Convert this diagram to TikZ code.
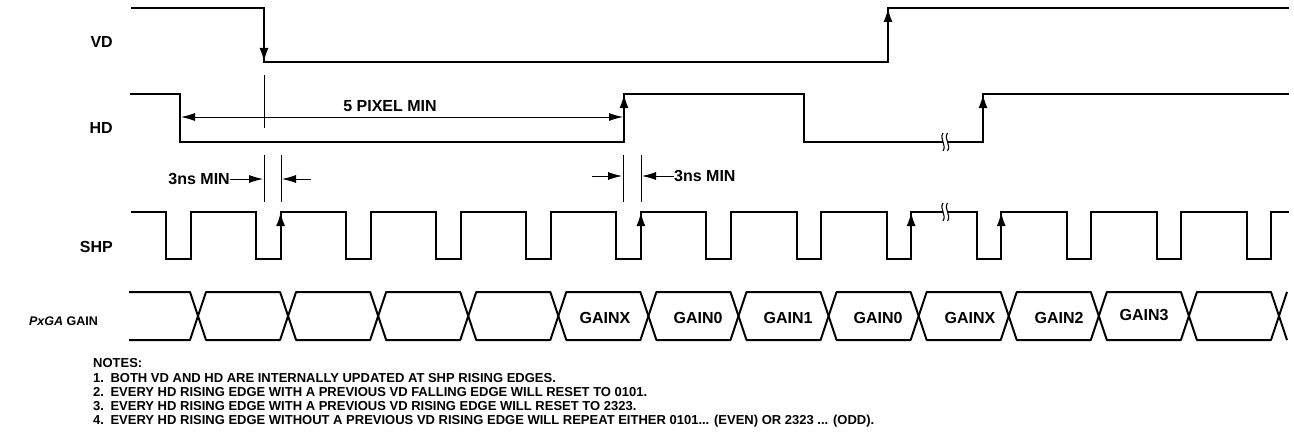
\documentclass[tikz,border=0pt]{standalone}
\usepackage{fontspec}
\setmainfont{Liberation Sans}
\usetikzlibrary{arrows.meta}

\tikzset{
  sig/.style={line width=2pt},
  dim/.style={line width=0.9pt},
  edgetip/.style={sig,-{Latex[length=14pt,width=9pt]}},
  dimtip/.style={dim,-{Latex[length=14pt,width=8pt]}},
  lbl/.style={inner sep=0pt,font=\fontsize{16}{19}\selectfont\bfseries},
  note/.style={inner sep=0pt,anchor=base west,font=\fontsize{13}{14}\selectfont\bfseries},
}

\newcommand{\brkmark}[2]{%
  \begin{scope}[shift={(#1,#2)}]
    \fill[white] (-2,-9) .. controls (-6,-3) and (2,3) .. (-2,9) -- (2.5,9)
      .. controls (6.5,3) and (-1.5,-3) .. (2.5,-9) -- cycle;
    \draw[line width=1.1pt] (-2,-9) .. controls (-6,-3) and (2,3) .. (-2,9);
    \draw[line width=1.1pt] (2.5,-9) .. controls (-1.5,-3) and (6.5,3) .. (2.5,9);
  \end{scope}}

\begin{document}
\begin{tikzpicture}[x=1pt,y=-1pt]
  \useasboundingbox (0,0) rectangle (1294,444);

  \node[lbl,anchor=east] (lblvd)  at (113,42)  {VD};
  \node[lbl,anchor=east] (lblhd)  at (113,128) {HD};
  \node[lbl,anchor=east] (lblshp) at (113,247) {SHP};
  \node[lbl,anchor=east,font=\fontsize{12.5}{14}\selectfont\bfseries] (lblgain) at (98,321) {\textit{PxGA} GAIN};

  % VD
  \draw[sig] (131,8) -- (264,8) -- (264,62) -- (888,62) -- (888,8) -- (1289,8);
  \draw[edgetip] (264,8) -- (264,62);
  \draw[edgetip] (888,62) -- (888,8);

  % HD
  \draw[sig] (130,94) -- (180,94) -- (180,142) -- (624,142) -- (624,94)
    -- (804,94) -- (804,142) -- (983,142) -- (983,94) -- (1289,94);
  \draw[edgetip] (624,142) -- (624,94);
  \draw[edgetip] (983,142) -- (983,94);
  \brkmark{945}{142}

  \draw[dim] (264,75) -- (264,128);
  \coordinate (pixl) at (181,117);
  \coordinate (pixr) at (623,117);
  \draw[dim,{Latex[length=14pt,width=8pt]}-{Latex[length=14pt,width=8pt]}] (pixl) -- (pixr);
  \node[lbl] (txtpix) at (390,106) {5 PIXEL MIN};

  % SHP
  \draw[sig] (131,212) \foreach \k in {0,...,12} {
      -- ({166+90.08*\k},212) -- ({166+90.08*\k},259)
      -- ({190.5+90.08*\k},259) -- ({190.5+90.08*\k},212) } -- (1289,212);
  \foreach \k in {1,5,8,9}
    \draw[edgetip] ({190.5+90.08*\k},259) -- ({190.5+90.08*\k},212);
  \brkmark{945}{212}

  % 3ns MIN
  \draw[dim] (264,155) -- (264,202);
  \draw[dim] (281,155) -- (281,202);
  \node[lbl,anchor=east] (txtnsl) at (230,179) {3ns MIN};
  \coordinate (nsla) at (263,179);
  \coordinate (nslb) at (311,179);
  \coordinate (nslc) at (282,179);
  \draw[dimtip] (txtnsl.east) -- (nsla);
  \draw[dimtip] (nslb) -- (nslc);

  \draw[dim] (623,155) -- (623,202);
  \draw[dim] (641,155) -- (641,202);
  \node[lbl,anchor=west] (txtnsr) at (674,176) {3ns MIN};
  \coordinate (nsra) at (592,176);
  \coordinate (nsrb) at (622,176);
  \coordinate (nsrc) at (642,176);
  \draw[dimtip] (nsra) -- (nsrb);
  \draw[dimtip] (txtnsr.west) -- (nsrc);

  % PxGA GAIN
  \draw[sig,line join=round] (129,292) -- (190,292) -- (198,316) -- (190,340) -- (129,340);
  \foreach \k in {0,...,11} {
    \pgfmathsetmacro\xl{198+90.08*\k}
    \pgfmathsetmacro\xr{\xl+90.08}
    \draw[sig,line join=round] (\xl,316) -- ({\xl+8},292) -- ({\xr-8},292)
      -- (\xr,316) -- ({\xr-8},340) -- ({\xl+8},340) -- cycle;
  }
  \draw[sig,line join=round] (1287,292) -- (1279,316) -- (1287,340);

  \node[lbl] (g1) at (605,318)  {GAINX};
  \node[lbl] (g2) at (698,318)  {GAIN0};
  \node[lbl] (g3) at (788,318)  {GAIN1};
  \node[lbl] (g4) at (878,318)  {GAIN0};
  \node[lbl] (g5) at (970,318)  {GAINX};
  \node[lbl] (g6) at (1059,318) {GAIN2};
  \node[lbl] (g7) at (1144,315) {GAIN3};

  % notes
  \node[note] (notehdr) at (93,367) {NOTES:};
  \node[note] (note1) at (93,382) {1.\hspace{0.5em}BOTH VD AND HD ARE INTERNALLY UPDATED AT SHP RISING EDGES.};
  \node[note] (note2) at (93,396) {2.\hspace{0.5em}EVERY HD RISING EDGE WITH A PREVIOUS VD FALLING EDGE WILL RESET TO 0101.};
  \node[note] (note3) at (93,410) {3.\hspace{0.5em}EVERY HD RISING EDGE WITH A PREVIOUS VD RISING EDGE WILL RESET TO 2323.};
  \node[note] (note4) at (93,424) {4.\hspace{0.5em}EVERY HD RISING EDGE WITHOUT A PREVIOUS VD RISING EDGE WILL REPEAT EITHER 0101... (EVEN) OR 2323 ... (ODD).};
\end{tikzpicture}
\end{document}
